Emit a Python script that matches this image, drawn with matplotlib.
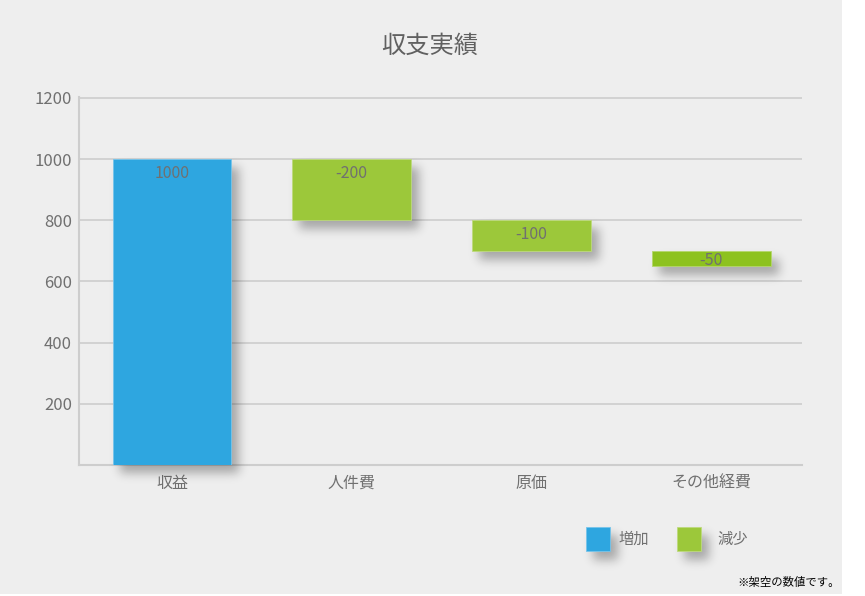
import numpy as np
import matplotlib
matplotlib.use('Agg')
import matplotlib.pyplot as plt
from matplotlib.patches import Rectangle
from matplotlib.colors import to_rgb

plt.rcParams['font.family'] = ['Noto Sans CJK JP', 'DejaVu Sans']

# データ
title = '収支実績'
categories = ['収益', '人件費', '原価', 'その他経費']
values = [1000, -200, -100, -50]
yticks = [200, 400, 600, 800, 1000, 1200]
legend_labels = ['増加', '減少']
note = '※架空の数値です。'

blue = '#2EA6E0'
green = '#9CC83A'
green_last = '#8DC21F'
text_grey = '#707070'
grid_grey = '#cdcdcd'


def lighten(c, k=0.35):
    r, g, b = to_rgb(c)
    return (r + (1 - r) * k, g + (1 - g) * k, b + (1 - b) * k)


def drop_shadow(im, dpi, dx=7, dy=8, sigma=5.0, strength=0.30):
    # 影をぼかして元の図形の下に合成する
    pad = 30
    src = np.pad(im, [(pad, pad), (pad, pad), (0, 0)])
    a = src[..., 3]
    sh = np.roll(np.roll(a, dx, axis=1), dy, axis=0)
    r = int(3 * sigma)
    w = np.exp(-0.5 * (np.arange(-r, r + 1) / sigma) ** 2)
    w /= w.sum()
    for axis in (0, 1):
        acc = np.zeros_like(sh)
        for i, wi in zip(range(-r, r + 1), w):
            acc += wi * np.roll(sh, i, axis=axis)
        sh = acc
    sh_a = sh * strength
    out_a = a + sh_a * (1 - a)
    out = np.zeros_like(src)
    out[..., :3] = src[..., :3] * (a / np.maximum(out_a, 1e-6))[..., None]
    out[..., 3] = out_a
    return out, -pad, -pad


# 滝グラフの下端と高さ
bottoms, heights, colors = [], [], []
running = 0
for i, v in enumerate(values):
    if v >= 0:
        bottoms.append(running)
        heights.append(v)
        colors.append(blue)
    else:
        bottoms.append(running + v)
        heights.append(-v)
        colors.append(green_last if i == len(values) - 1 else green)
    running += v

W, H = 865, 596
ymax = 1203
ax_h_px = 465 - 97
fig = plt.figure(figsize=(W / 100, H / 100), dpi=100, facecolor='white')
fig.patches.append(Rectangle((0, 2 / H), 842 / W, 594 / H, transform=fig.transFigure,
                             facecolor='#eeeeee', edgecolor='none', zorder=-10))

ax = fig.add_axes([79 / W, (H - 465) / H, (802 - 79) / W, ax_h_px / H])
ax.set_facecolor('none')

x = np.arange(len(categories))
bars = ax.bar(x, heights, bottom=bottoms, width=0.662, color=colors,
              edgecolor=[lighten(c) for c in colors], linewidth=0.6, zorder=3)
for b in bars:
    b.set_agg_filter(drop_shadow)

# ラベルは上端から少し下、ただし棒の中央より下には行かない
px = ymax / ax_h_px
for xi, bt, h, v in zip(x, bottoms, heights, values):
    ly = max(bt + h - 14 * px, bt + h / 2 - 2 * px)
    ax.text(xi, ly, str(v), ha='center', va='center', color=text_grey,
            fontsize=11.5, zorder=4)

ax.set_xlim(-0.5175, 3.506)
ax.set_ylim(0, ymax)
ax.set_yticks(yticks)
ax.set_xticks(x, categories)
ax.yaxis.grid(True, color=grid_grey, linewidth=1.2)
ax.set_axisbelow(True)
for s in ['top', 'right']:
    ax.spines[s].set_visible(False)
for s in ['left', 'bottom']:
    ax.spines[s].set_color(grid_grey)
    ax.spines[s].set_linewidth(1.5)
ax.tick_params(axis='y', length=0, labelsize=12, labelcolor=text_grey, pad=5)
ax.tick_params(axis='x', length=0, labelsize=11.5, labelcolor=text_grey, pad=7)

fig.text(430 / W, 1 - 46 / H, title, ha='center', va='center', fontsize=17.5, color='#606060')

# 凡例（手動配置）
legend_colors = [blue, green]
box_left = [586, 677]
text_left = [619, 717]
for c, bl, tl, lab in zip(legend_colors, box_left, text_left, legend_labels):
    sq = Rectangle((bl / W, 1 - 551 / H), 24 / W, 24 / H, transform=fig.transFigure,
                   facecolor=c, edgecolor=lighten(c), linewidth=0.6)
    sq.set_agg_filter(drop_shadow)
    fig.add_artist(sq)
    fig.text(tl / W, 1 - 539 / H, lab, ha='left', va='center', fontsize=11, color=text_grey)

fig.text(840 / W, 1 - 582 / H, note, ha='right', va='center', fontsize=8.2, color='black')

fig.savefig('out.png', dpi=100, facecolor='white')
